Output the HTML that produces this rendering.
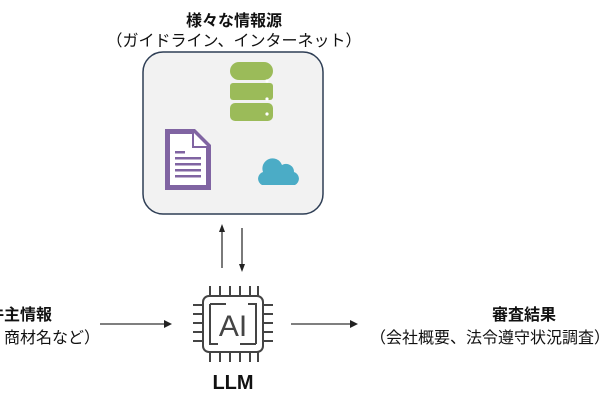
<!DOCTYPE html>
<html><head><meta charset="utf-8"><style>
html,body{margin:0;width:600px;height:420px;overflow:hidden}
body{background:#fff;position:relative;font-family:"Liberation Sans","Noto Sans CJK JP",sans-serif;color:#111}
.t{position:absolute;white-space:nowrap;font-size:16px}
.b{font-weight:bold}
</style></head><body>
<div class="t b" style="left:0;width:468px;text-align:center;top:7px">様々な情報源</div>
<div class="t" style="left:0;width:468px;text-align:center;top:27px">（ガイドライン、インターネット）</div>
<div style="position:absolute;left:0;top:0;width:600px;height:420px;overflow:hidden">
<div class="t b" style="right:548px;top:301px">案件主情報</div>
<div class="t" style="right:500px;top:324px">（会社名、商材名など）</div>
<div class="t b" style="left:492px;top:301px">審査結果</div>
<div class="t" style="left:370px;top:324px">（会社概要、法令遵守状況調査）</div>
</div>
<div class="t b" style="left:200px;width:66px;text-align:center;top:372px;font-size:20px">LLM</div>
<svg width="600" height="420" style="position:absolute;left:0;top:0">
<defs><marker id="a" markerWidth="8" markerHeight="8" refX="6" refY="4" orient="auto" markerUnits="userSpaceOnUse"><path d="M0,0L8,4L0,8z" fill="#222"/></marker>
<marker id="s" markerWidth="8" markerHeight="8" refX="4" refY="4" orient="auto" markerUnits="userSpaceOnUse"><path d="M0,1L8,4L0,7z" fill="#222"/></marker></defs>
<rect x="143" y="52" width="180" height="162" rx="20" fill="#f2f2f2" stroke="#2e3e55" stroke-width="1.5"/>
<g fill="#9bbb59">
<rect x="230" y="62" width="43" height="18" rx="9"/>
<rect x="230" y="83" width="43" height="17" rx="3"/>
<rect x="230" y="103" width="43" height="18" rx="5"/>
</g>
<g fill="#fff"><circle cx="267" cy="81" r="1.6"/><circle cx="267" cy="99" r="1.6"/><circle cx="267" cy="114" r="1.6"/></g>
<path d="M165,129 H195 L211,145 V190 H165 Z" fill="#8064a2"/>
<path d="M170,134 H192 V148 H206 V185 H170 Z" fill="#fff"/>
<path d="M194,133 L207,146 H194 Z" fill="#fff"/>
<g fill="#8064a2"><rect x="175" y="151" width="10" height="2.5"/><rect x="175" y="157" width="26" height="2.5"/><rect x="175" y="163" width="26" height="2.5"/><rect x="175" y="169" width="26" height="2.5"/><rect x="175" y="175" width="26" height="2.5"/></g>
<path d="M262,185 a7,7 0 0 1 1,-13 a10,10 0 0 1 19,-7 a8,8 0 0 1 12,7 a7,7 0 0 1 1,13 z" fill="#4bacc6"/>
<line x1="222" y1="268" x2="222" y2="228" stroke="#222" stroke-width="1.2" marker-end="url(#s)"/>
<line x1="242" y1="228" x2="242" y2="268" stroke="#222" stroke-width="1.2" marker-end="url(#s)"/>
<line x1="100" y1="324" x2="170" y2="324" stroke="#333" stroke-width="1.2" marker-end="url(#a)"/>
<line x1="291" y1="324" x2="356" y2="324" stroke="#333" stroke-width="1.2" marker-end="url(#a)"/>
<g stroke="#444" stroke-width="2" fill="none">
<rect x="203" y="296" width="60" height="56" rx="6"/>
<path d="M210,304 H226 M210,304 V344 H218 M256,344 H240 M256,344 V304 H248"/>
<path d="M210,296 V286 M220,296 V286 M230,296 V286 M240,296 V286 M250,296 V286 M258,296 V286"/>
<path d="M210,352 V362 M220,352 V362 M230,352 V362 M240,352 V362 M250,352 V362 M258,352 V362"/>
<path d="M203,305 H193 M203,314 H193 M203,323 H193 M203,332 H193 M203,341 H193"/>
<path d="M263,305 H273 M263,314 H273 M263,323 H273 M263,332 H273 M263,341 H273"/>
</g>
<text x="233" y="336" text-anchor="middle" font-family="Liberation Sans" font-size="30" fill="#444">AI</text>
</svg>
</body></html>
